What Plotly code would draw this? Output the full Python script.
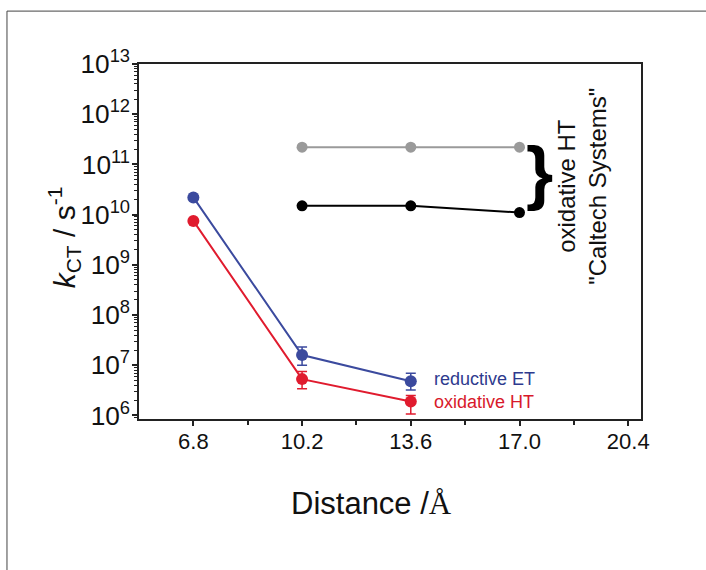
import plotly.graph_objects as go

# ---- data ----
distance = [6.8, 10.2, 13.6]
red_et = [2.2e10, 1.6e7, 4.8e6]          # reductive ET
red_et_plus = [0, 0.7e7, 2.1e6]
red_et_minus = [0, 0.6e7, 1.6e6]
ox_ht = [7.5e9, 5.3e6, 1.9e6]            # oxidative HT
ox_ht_plus = [0, 2.2e6, 0.6e6]
ox_ht_minus = [0, 1.9e6, 0.83e6]

caltech_x = [10.2, 13.6, 17.0]
caltech_gray = [2.2e11, 2.2e11, 2.2e11]
caltech_black = [1.5e10, 1.5e10, 1.1e10]

x_ticks = [6.8, 10.2, 13.6, 17.0, 20.4]
x_ticktext = ["6.8", "10.2", "13.6", "17.0", "20.4"]
x_minor = [8.5, 11.9, 15.3, 18.7]

BLUE = "#3b4a9e"
RED = "#e01b2e"
FONT = "Liberation Sans, Arial, sans-serif"

fig = go.Figure()

fig.add_trace(go.Scatter(
    x=caltech_x, y=caltech_gray, mode="lines+markers",
    line=dict(color="#9a9a9a", width=2), marker=dict(color="#9a9a9a", size=11),
    showlegend=False))
fig.add_trace(go.Scatter(
    x=caltech_x, y=caltech_black, mode="lines+markers",
    line=dict(color="#000000", width=2), marker=dict(color="#000000", size=11),
    showlegend=False))
fig.add_trace(go.Scatter(
    x=distance, y=red_et, mode="lines+markers",
    line=dict(color=BLUE, width=2), marker=dict(color=BLUE, size=12),
    error_y=dict(type="data", symmetric=False, array=red_et_plus,
                 arrayminus=red_et_minus, color=BLUE, thickness=1.5, width=5),
    showlegend=False))
fig.add_trace(go.Scatter(
    x=distance, y=ox_ht, mode="lines+markers",
    line=dict(color=RED, width=2), marker=dict(color=RED, size=12),
    error_y=dict(type="data", symmetric=False, array=ox_ht_plus,
                 arrayminus=ox_ht_minus, color=RED, thickness=1.5, width=5),
    showlegend=False))

annotations = [
    dict(x=14.26, y=6.72, xref="x", yref="y", text="reductive ET", showarrow=False,
         xanchor="left", yanchor="middle", font=dict(family=FONT, size=18, color="#2e3a8e")),
    dict(x=14.26, y=6.27, xref="x", yref="y", text="oxidative HT", showarrow=False,
         xanchor="left", yanchor="middle", font=dict(family=FONT, size=18, color="#d8192b")),
    dict(x=17.61, y=10.84, xref="x", yref="y", text="<b>}</b>", showarrow=False,
         xanchor="center", yanchor="middle", font=dict(family=FONT, size=70, color="#000")),
    dict(x=18.93, y=10.56, xref="x", yref="y",
         text="oxidative HT<br>\"Caltech Systems\"", showarrow=False, textangle=-90,
         xanchor="center", yanchor="middle", font=dict(family=FONT, size=24, color="#111")),
    # axis titles
    dict(x=-0.15, y=0.511, xref="paper", yref="paper",
         text="<i>k</i><sub>CT</sub> / s<sup>-1</sup>", showarrow=False, textangle=-90,
         xanchor="center", yanchor="middle", font=dict(family=FONT, size=30, color="#111")),
    dict(x=0.464, y=-0.237, xref="paper", yref="paper",
         text="Distance /<span style=\"font-family:Liberation Serif\">Å</span>", showarrow=False,
         xanchor="center", yanchor="middle", font=dict(family=FONT, size=31, color="#111")),
]

fig.update_layout(
    width=706, height=570,
    margin=dict(l=139, r=65, t=64, b=151),
    paper_bgcolor="white", plot_bgcolor="white",
    font=dict(family=FONT, color="#111"),
    annotations=annotations,
    shapes=[
        dict(type="line", xref="paper", yref="paper", x0=-0.263, x1=-0.263, y0=-0.43, y1=1.149,
             line=dict(color="#444", width=1)),
        dict(type="line", xref="paper", yref="paper", x0=-0.263, x1=1.14, y0=1.149, y1=1.149,
             line=dict(color="#444", width=1)),
    ],
    xaxis=dict(
        range=[5.1, 20.8], tickmode="array", tickvals=x_ticks, ticktext=x_ticktext,
        ticks="outside", ticklen=5, tickwidth=1.5, tickcolor="#222",
        minor=dict(tickvals=x_minor, ticks="outside", ticklen=4, tickwidth=1.5, tickcolor="#222"),
        showline=True, linecolor="#222", linewidth=1.5, mirror=True,
        showgrid=False, zeroline=False, ticklabelstandoff=-3,
        tickfont=dict(family=FONT, size=22, color="#111"),
    ),
    yaxis=dict(
        type="log", range=[5.93, 13.0], dtick=1, exponentformat="power",
        ticks="outside", ticklen=5, tickwidth=1.5, tickcolor="#222",
        minor=dict(dtick="D1", ticks="outside", ticklen=3, tickwidth=1, tickcolor="#222"),
        showline=True, linecolor="#222", linewidth=1.5, mirror=True,
        showgrid=False, zeroline=False, ticklabelstandoff=-2,
        tickfont=dict(family=FONT, size=21, color="#111"),
    ),
)

fig.write_html("out.html", config={"displayModeBar": False},
               post_script="document.body.style.margin='0';document.body.style.overflow='hidden';")
